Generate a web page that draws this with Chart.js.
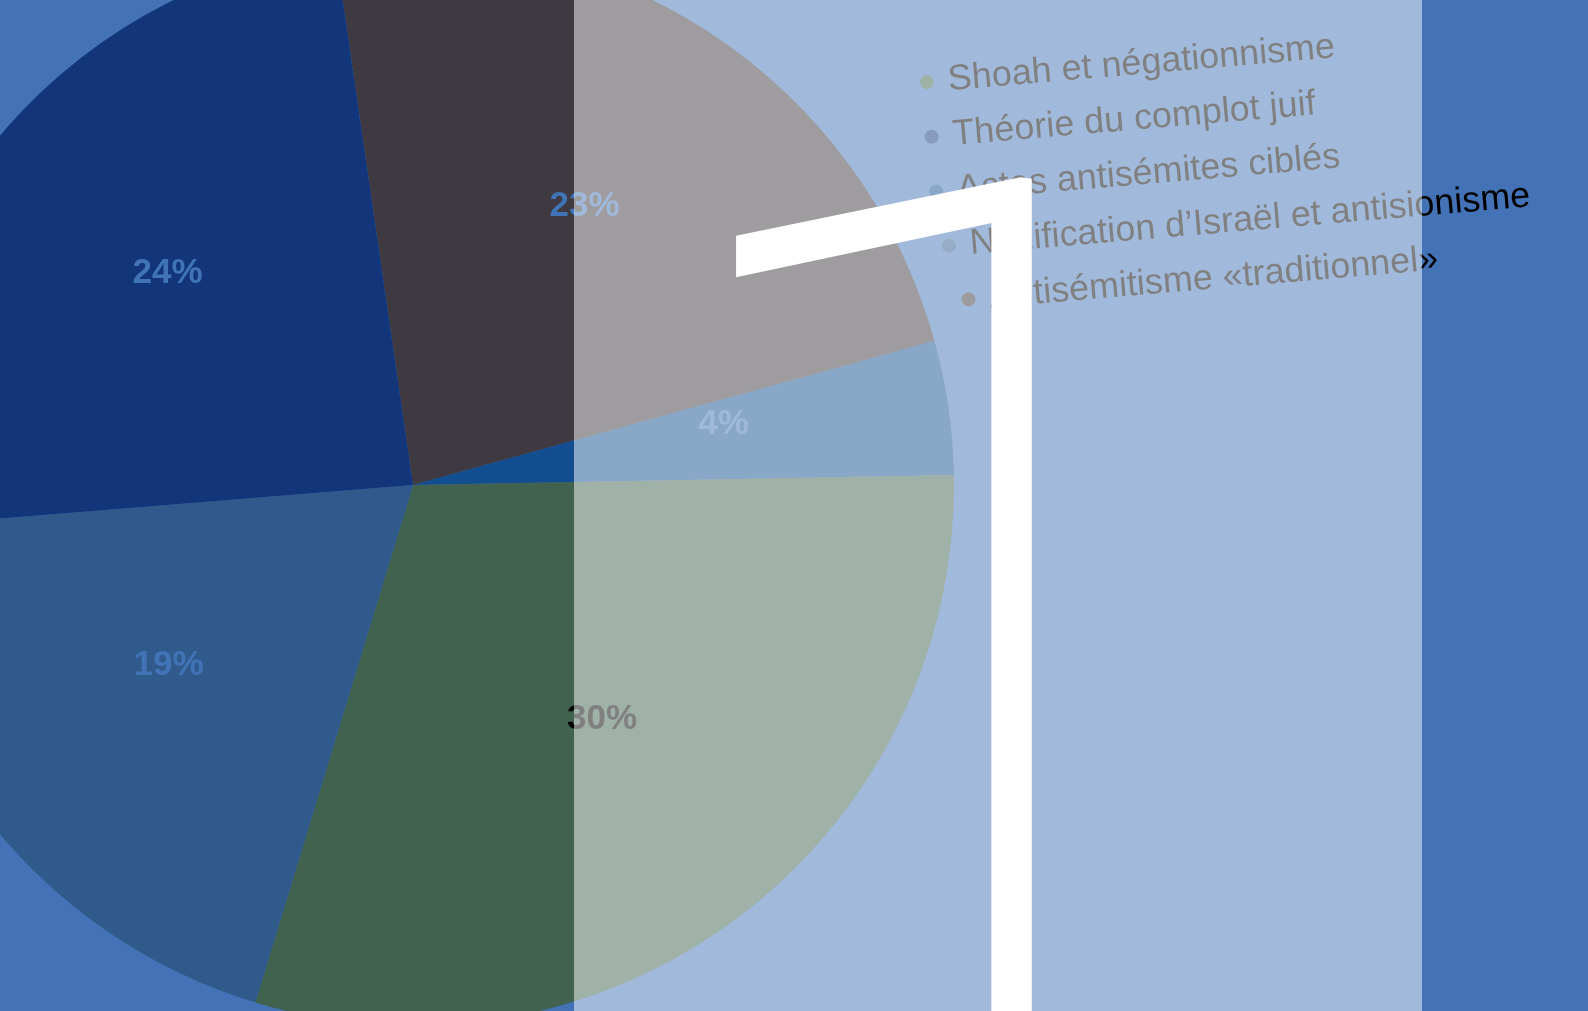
<!DOCTYPE html>
<html lang="fr">
<head>
<meta charset="utf-8">
<title>Formes de l’antisémitisme</title>
<script src="https://cdn.jsdelivr.net/npm/chart.js@4.4.1/dist/chart.umd.min.js"></script>
<style>
  html, body { margin: 0; padding: 0; }
  body {
    width: 1588px; height: 1011px; overflow: hidden; position: relative;
    background: #4373b6;
    font-family: "Liberation Sans", Arial, Helvetica, sans-serif;
  }
  #pie { position: absolute; left: -128px; top: -56px; }
  #legende {
    position: absolute; left: 920px; top: 53.5px; margin: 0; padding: 0; list-style: none;
    transform-origin: 7px 27.5px; transform: rotate(-4.85deg);
  }
  #legende li { display: flex; align-items: center; height: 55px; font-size: 36px; color: #000; white-space: nowrap; }
  #legende .pastille { width: 14px; height: 14px; border-radius: 50%; margin-right: 14px; flex: none; }
  #legende .texte { position: relative; top: -2px; }
  #legende li:nth-child(4) { margin-left: 8px; }
  #legende li:nth-child(5) { margin-left: 23px; }
  #chiffre { position: absolute; left: 0; top: 0; }
  #voile { position: absolute; left: 574px; top: 0; width: 848px; height: 1011px; background: rgba(255, 255, 255, 0.5); }
</style>
</head>
<body>
<canvas id="pie" width="1082" height="1082"></canvas>
<ul id="legende"></ul>
<canvas id="chiffre" width="1588" height="1011"></canvas>
<div id="voile"></div>
<script>
// parts, dans l'ordre des secteurs (sens horaire depuis le haut)
const categories = [
    'Antisémitisme «traditionnel»',
    'Actes antisémites ciblés',
    'Shoah et négationnisme',
    'Nazification d’Israël et antisionisme',
    'Théorie du complot juif'
];
const shares = [23, 4, 30, 19, 24];
// ordre d'affichage dans la légende
const legendOrder = [
    'Shoah et négationnisme',
    'Théorie du complot juif',
    'Actes antisémites ciblés',
    'Nazification d’Israël et antisionisme',
    'Antisémitisme «traditionnel»'
];

const sliceColors = ['#3f3941', '#124e8f', '#41624f', '#2f5a8b', '#13367a'];
const labelColors = ['#4173b7', '#4173b7', '#000000', '#4173b7', '#4173b7'];

// pourcentages écrits dans chaque secteur
const sliceLabels = {
    id: 'sliceLabels',
    afterDatasetsDraw(chart, args, opts) {
        const ctx = chart.ctx;
        const meta = chart.getDatasetMeta(0);
        const values = chart.data.datasets[0].data;
        ctx.save();
        ctx.font = opts.font;
        ctx.textAlign = 'center';
        ctx.textBaseline = 'middle';
        meta.data.forEach((arc, i) => {
            const p = arc.getProps(['x', 'y', 'startAngle', 'endAngle', 'outerRadius'], true);
            const a = (p.startAngle + p.endAngle) / 2;
            const r = p.outerRadius * opts.position;
            ctx.fillStyle = opts.colors[i];
            ctx.fillText(values[i] + '%', p.x + Math.cos(a) * r, p.y + Math.sin(a) * r + opts.offsetY);
        });
        ctx.restore();
    }
};

const chart = new Chart(document.getElementById('pie'), {
    type: 'pie',
    data: {
        labels: categories,
        datasets: [{
            data: shares,
            backgroundColor: sliceColors,
            borderWidth: 0
        }]
    },
    options: {
        responsive: false,
        animation: false,
        rotation: -8.25,
        layout: { padding: 0 },
        plugins: {
            legend: {
                display: false,
                labels: {
                    sort: (a, b) => legendOrder.indexOf(a.text) - legendOrder.indexOf(b.text)
                }
            },
            tooltip: { enabled: false },
            sliceLabels: {
                font: 'bold 35px "Liberation Sans", Arial, Helvetica, sans-serif',
                position: 0.58,
                offsetY: -16,
                colors: labelColors
            }
        }
    },
    plugins: [sliceLabels]
});

// légende en HTML, inclinée
const legende = document.getElementById('legende');
chart.legend.legendItems.forEach(item => {
    const li = document.createElement('li');
    const dot = document.createElement('span');
    dot.className = 'pastille';
    dot.style.background = item.fillStyle;
    const txt = document.createElement('span');
    txt.className = 'texte';
    txt.textContent = item.text;
    li.append(dot, txt);
    legende.appendChild(li);
});

// grand chiffre blanc, légèrement cisaillé pour aplatir le drapeau
function drawChiffre() {
    const c = document.getElementById('chiffre').getContext('2d');
    c.font = '100 1180px Roboto';
    const m = c.measureText('1');
    c.translate(1036, 176);
    c.transform(1.06, 0.151, 0, 1, 0, 0);
    c.fillStyle = '#ffffff';
    c.strokeStyle = '#ffffff';
    c.lineWidth = 7;
    c.lineJoin = 'miter';
    c.miterLimit = 4;
    c.fillText('1', -m.actualBoundingBoxRight, m.actualBoundingBoxAscent);
    c.strokeText('1', -m.actualBoundingBoxRight, m.actualBoundingBoxAscent);
}
document.fonts.load('100 1180px Roboto').then(drawChiffre, drawChiffre);
</script>
</body>
</html>
